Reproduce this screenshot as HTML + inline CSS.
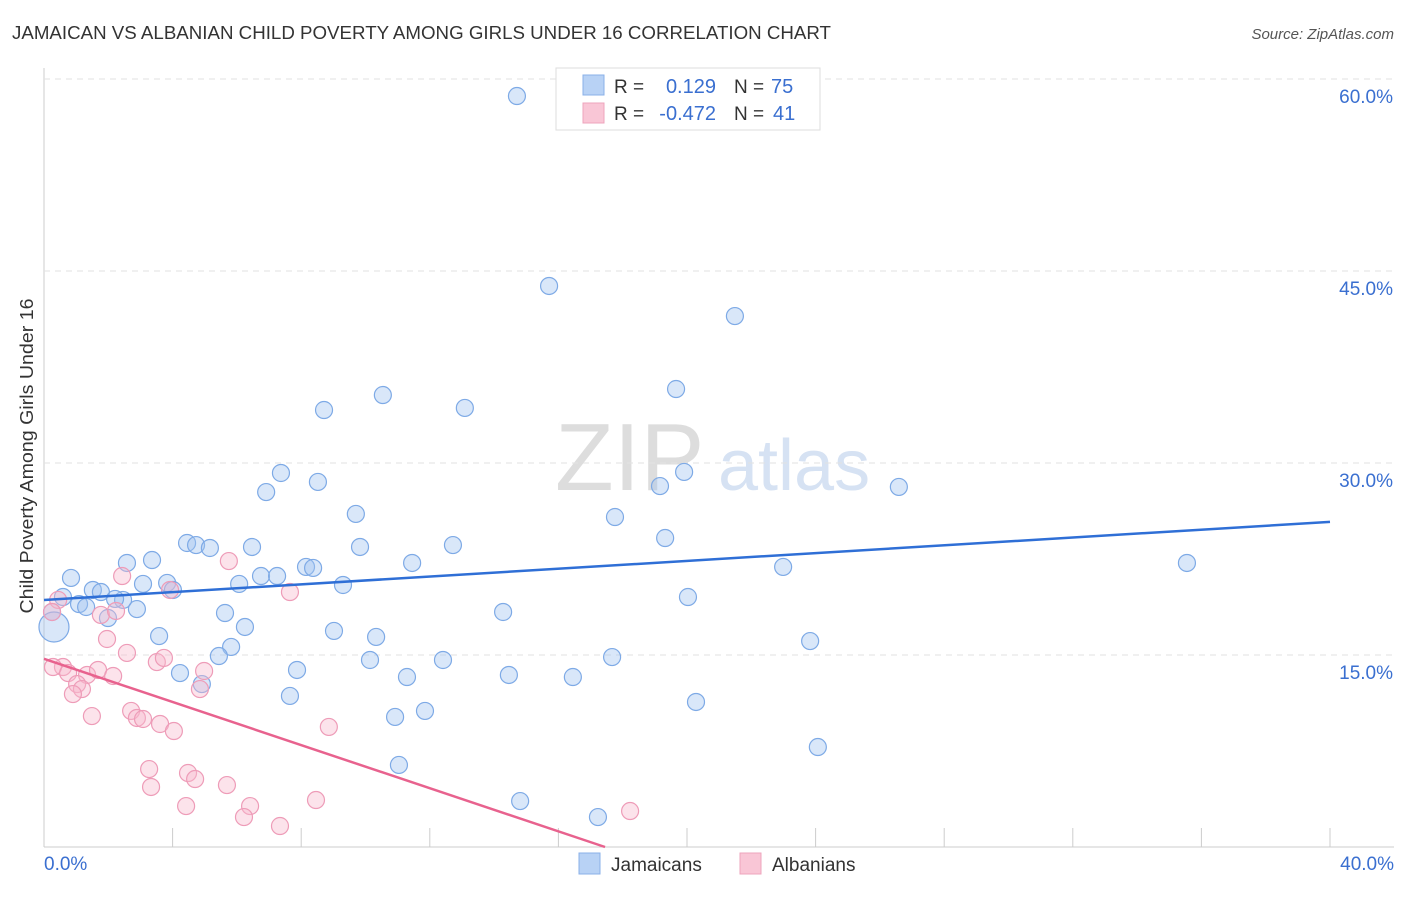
<!DOCTYPE html>
<html><head><meta charset="utf-8"><style>
body{margin:0;background:#fff;font-family:"Liberation Sans",sans-serif;}
svg text{font-family:"Liberation Sans",sans-serif;}
</style></head><body>
<svg id="chart" width="1406" height="892">
<text x="12" y="39" font-size="18" fill="#333" textLength="819" lengthAdjust="spacingAndGlyphs">JAMAICAN VS ALBANIAN CHILD POVERTY AMONG GIRLS UNDER 16 CORRELATION CHART</text>
<text x="1394" y="39" font-size="15" fill="#555" font-style="italic" text-anchor="end">Source: ZipAtlas.com</text>
<text x="33" y="456" font-size="18" fill="#333" text-anchor="middle" textLength="315" lengthAdjust="spacingAndGlyphs" transform="rotate(-90 33 456)">Child Poverty Among Girls Under 16</text>
<text x="555" y="490" font-size="96" fill="#ddd" font-family="Liberation Serif">ZIP</text>
<text x="718" y="490" font-size="72" fill="#d6e2f3">atlas</text>
<g id="grid"></g><g id="pts"></g><g id="lines"></g>
<g>
<rect x="556" y="68" width="264" height="62" fill="#fff" stroke="#ddd"/>
<rect x="583" y="75" width="21" height="20" fill="#b8d2f5" stroke="#8ab0e8"/>
<rect x="583" y="103" width="21" height="20" fill="#f9c6d6" stroke="#eea4bc"/>
<text x="614" y="93" font-size="19" fill="#333">R =</text><text x="716" y="93" font-size="20" fill="#3a6fd0" text-anchor="end">0.129</text>
<text x="734" y="93" font-size="19" fill="#333">N =</text><text x="771" y="93" font-size="20" fill="#3a6fd0">75</text>
<text x="614" y="120" font-size="19" fill="#333">R =</text><text x="716" y="120" font-size="20" fill="#3a6fd0" text-anchor="end">-0.472</text>
<text x="734" y="120" font-size="19" fill="#333">N =</text><text x="773" y="120" font-size="20" fill="#3a6fd0">41</text>
</g>
<g>
<rect x="579" y="853" width="21" height="21" fill="#b8d2f5" stroke="#8ab0e8"/>
<text x="611" y="871" font-size="19" fill="#333">Jamaicans</text>
<rect x="740" y="853" width="21" height="21" fill="#f9c6d6" stroke="#eea4bc"/>
<text x="772" y="871" font-size="19" fill="#333">Albanians</text>
</g>
</svg>
<script>
const xTicks=[0,4,8,12,16,20,24,28,32,36,40];
const yTicks=[15,30,45,60];
const blueX=[14.71,15.71,21.49,19.66,10.54,8.71,13.09,7.37,6.91,8.52,19.91,19.16,26.59,9.70,17.76,4.45,4.73,5.16,6.47,9.83,12.72,19.32,3.36,2.58,11.45,8.15,8.37,35.55,22.99,0.84,6.75,7.25,3.83,3.08,6.07,9.30,1.52,1.77,4.01,0.59,2.46,2.21,1.09,1.31,2.89,0.25,5.63,14.28,20.03,1.99,6.25,9.02,3.58,10.33,5.82,5.44,23.83,10.14,12.41,17.67,7.87,4.23,4.91,11.29,14.46,16.45,7.65,20.28,11.85,10.92,24.07,11.04,14.81,17.23,0.31];
const blueY=[58.67,43.83,41.48,35.78,35.31,34.14,34.30,29.22,27.73,28.52,29.30,28.20,28.13,26.02,25.78,23.75,23.59,23.36,23.44,23.44,23.59,24.14,22.42,22.19,22.19,21.88,21.80,22.19,21.88,21.02,21.17,21.17,20.63,20.55,20.55,20.47,20.08,19.92,20.08,19.53,19.30,19.38,18.98,18.75,18.59,18.36,18.28,18.36,19.53,17.89,17.19,16.88,16.48,16.41,15.63,14.92,16.09,14.61,14.61,14.84,13.83,13.59,12.73,13.28,13.44,13.28,11.80,11.33,10.63,10.16,7.81,6.41,3.59,2.34,17.19];
const pinkX=[0.44,0.25,2.43,5.75,3.92,7.65,1.77,2.24,1.96,2.58,3.51,3.73,4.98,0.59,0.28,0.75,1.34,1.68,2.15,1.03,1.18,0.90,4.85,1.49,2.71,2.89,3.08,3.61,4.04,8.86,3.27,4.48,4.70,3.33,5.69,4.42,6.41,6.22,8.46,7.34,18.23];
const pinkY=[19.30,18.36,21.17,22.34,20.08,19.92,18.13,18.44,16.25,15.16,14.45,14.77,13.75,14.06,14.06,13.59,13.44,13.83,13.36,12.73,12.34,11.95,12.34,10.23,10.63,10.08,10.00,9.61,9.06,9.38,6.09,5.78,5.31,4.69,4.84,3.20,3.20,2.34,3.67,1.64,2.81];
const blueTrend=[[0,19.3],[40,25.4]];
const pinkTrend=[[0,14.7],[17.45,0]];
const NS='http://www.w3.org/2000/svg';
const sx=v=>44+v*1286/40, sy=v=>847-v*192/15;
function mk(t,a,p){const e=document.createElementNS(NS,t);for(const k in a)e.setAttribute(k,a[k]);p.appendChild(e);return e;}
const g=document.getElementById('grid');
mk('line',{x1:44,y1:68,x2:44,y2:847,stroke:'#ccc'},g);
mk('line',{x1:44,y1:847,x2:1394,y2:847,stroke:'#ccc'},g);
yTicks.forEach(v=>{const l=mk('line',{x1:44,y1:sy(v),x2:1394,y2:sy(v),stroke:'#e2e2e2','stroke-dasharray':'6,5'},g);


const t=mk('text',{x:1393,y:sy(v)+24,'font-size':19,fill:'#3a6fd0','text-anchor':'end'},g);t.textContent=v.toFixed(1)+'%';

});
xTicks.forEach(v=>{const l=mk('line',{x1:sx(v),y1:828,x2:sx(v),y2:847,stroke:'#ccc'},g);

});
[[0,44,'start'],[40,1394,'end']].forEach(([v,x,a])=>{const t=mk('text',{x:x,y:870,'font-size':19,fill:'#3a6fd0','text-anchor':a},g);t.textContent=v.toFixed(1)+'%';

});
const p=document.getElementById('pts');
function dots(X,Y,fill,stroke,name){X.forEach((x,i)=>{let r=8.5;if(name==='jamaican-point'&&i===X.length-1)r=15;
const c=mk('circle',{cx:sx(x),cy:sy(Y[i]),r:r,fill:fill,stroke:stroke,'stroke-width':1.2},p);

});}
dots(blueX,blueY,'rgba(160,195,240,0.4)','#7eaae6','jamaican-point');
dots(pinkX,pinkY,'rgba(248,185,205,0.4)','#ee9cb8','albanian-point');
const L=document.getElementById('lines');
const b=mk('line',{x1:sx(blueTrend[0][0]),y1:sy(blueTrend[0][1]),x2:sx(blueTrend[1][0]),y2:sy(blueTrend[1][1]),stroke:'#2f6fd6','stroke-width':2.5},L);


const pk=mk('line',{x1:sx(pinkTrend[0][0]),y1:sy(pinkTrend[0][1]),x2:sx(pinkTrend[1][0]),y2:sy(pinkTrend[1][1]),stroke:'#e8628e','stroke-width':2.5},L);


</script>
</body></html>
